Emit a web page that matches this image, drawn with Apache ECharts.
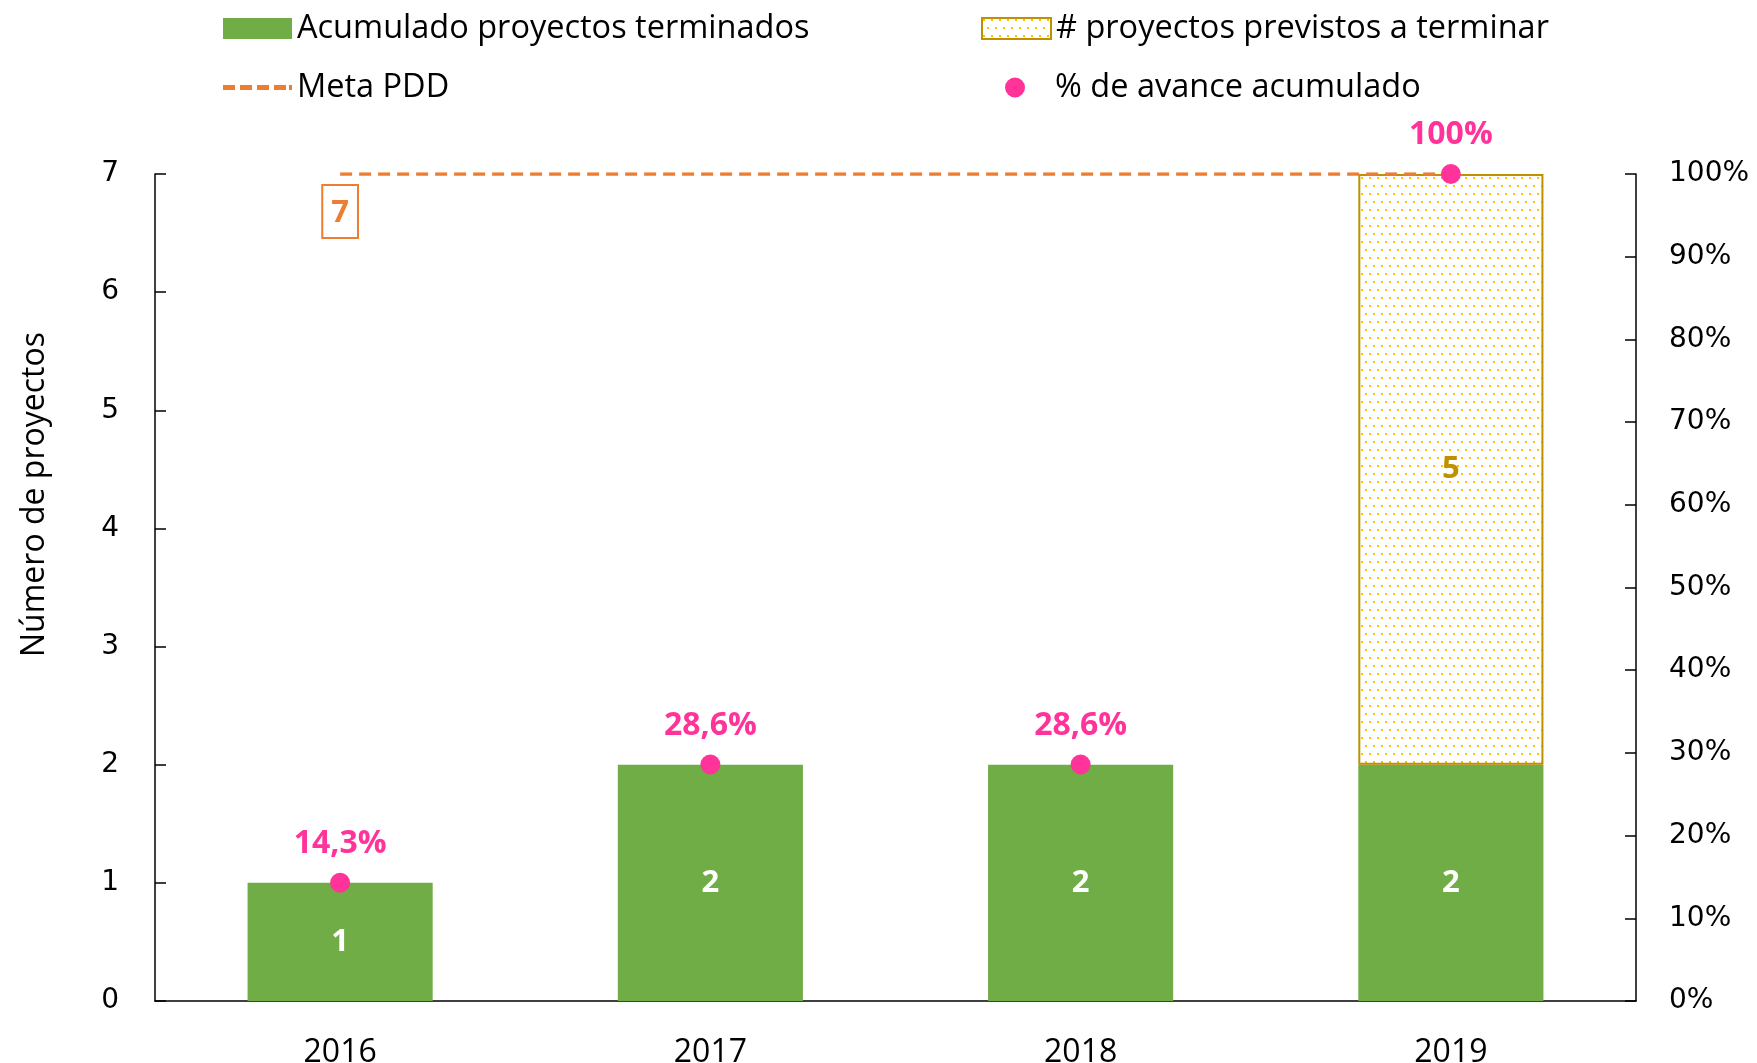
<!DOCTYPE html>
<html>
<head>
<meta charset="UTF-8">
<title>Proyectos terminados</title>
<script type="text/javascript" src="https://cdn.jsdelivr.net/npm/echarts@6/dist/echarts.min.js"></script>
<style>
  html, body { margin: 0; padding: 0; background: #fff; }
  #main { width: 1757px; height: 1063px; }
</style>
</head>
<body>
    <div id="main"></div>
    <script type="text/javascript">
    // datos
    var years = ['2016', '2017', '2018', '2019'];
    var terminados = [1, 2, 2, 2];
    var previstos = ['-', '-', '-', 5];
    var metaPDD = [7, 7, 7, 7];
    var avance = [0.143, 0.286, 0.286, 1.0];

    var txtFont = 'Open Sans';
    var numFont = 'DejaVu Sans';

    // relleno punteado para la barra de previstos
    function dotPattern() {
        var c = document.createElement('canvas');
        c.width = 8; c.height = 16;
        var g = c.getContext('2d');
        g.fillStyle = '#ffffff';
        g.fillRect(0, 0, 8, 16);
        g.fillStyle = '#FFC000';
        g.fillRect(1, 1, 2, 2);
        g.fillRect(5, 9, 2, 2);
        return c;
    }
    var pattern = { image: dotPattern(), repeat: 'repeat' };

    function pct(v) {
        if (v >= 1) return '100%';
        return (v * 100).toFixed(1).replace('.', ',') + '%';
    }

    var legendText = { fontFamily: txtFont, fontSize: 32.5, color: '#000' };
    var dashIcon = 'path://M0,0h12v5h-12zM17,0h12v5h-12zM34,0h12v5h-12zM51,0h12v5h-12zM66,0h3v5h-3z';

    var myChart = echarts.init(document.getElementById('main'));
    var option = {
        animation: false,
        grid: { left: 155, right: 121, top: 174, bottom: 62, containLabel: false, outerBoundsMode: 'none' },
        legend: [
            { data: [{ name: 'Acumulado proyectos terminados', icon: 'rect' }],
              left: 223, top: 12, padding: 0, itemWidth: 69, itemHeight: 21, textStyle: legendText },
            { data: [{ name: '# proyectos previstos a terminar', icon: 'rect' }],
              left: 981, top: 12, padding: 0, itemWidth: 69, itemHeight: 21, textStyle: legendText },
            { data: [{ name: 'Meta PDD', icon: dashIcon, itemStyle: { color: '#ED7D31', opacity: 1 } }],
              left: 223, top: 71, padding: 0, itemWidth: 69, itemHeight: 6, textStyle: legendText,
              itemStyle: { color: '#ED7D31', opacity: 1 } },
            { data: ['% de avance acumulado'],
              left: 980, top: 71, padding: 0, itemWidth: 70, itemHeight: 25, textStyle: legendText,
              lineStyle: { opacity: 0 } }
        ],
        xAxis: {
            type: 'category',
            data: years,
            axisLine: { lineStyle: { color: '#000', width: 1.5 } },
            axisTick: { inside: true, length: 11, lineStyle: { color: '#000', width: 1.5 } },
            axisLabel: { fontFamily: txtFont, fontSize: 32, color: '#000', margin: 36 }
        },
        yAxis: [
            {
                type: 'value', min: 0, max: 7, interval: 1,
                name: 'Número de proyectos',
                nameLocation: 'middle', nameGap: 104, nameRotate: 90,
                nameTextStyle: { fontFamily: txtFont, fontSize: 32, color: '#000', padding: [0, 0, 0, 186] },
                axisLine: { show: true, lineStyle: { color: '#000', width: 1.5 } },
                axisTick: { show: true, inside: true, length: 11, lineStyle: { color: '#000', width: 1.5 } },
                axisLabel: { fontFamily: numFont, fontSize: 28, color: '#000', margin: 36 },
                splitLine: { show: false }
            },
            {
                type: 'value', min: 0, max: 1, interval: 0.1,
                position: 'right',
                axisLine: { show: true, lineStyle: { color: '#000', width: 1.5 } },
                axisTick: { show: true, inside: true, length: 11, lineStyle: { color: '#000', width: 1.5 } },
                axisLabel: {
                    fontFamily: numFont, fontSize: 28, color: '#000', margin: 33,
                    formatter: function (v) { return Math.round(v * 100) + '%'; }
                },
                splitLine: { show: false }
            }
        ],
        series: [
            {
                name: 'Acumulado proyectos terminados',
                type: 'bar', stack: 'p', barWidth: '50%',
                data: terminados,
                itemStyle: { color: '#70AD47' },
                label: {
                    show: true, position: 'inside', color: '#fff',
                    fontFamily: txtFont, fontWeight: 'bold', fontSize: 31
                }
            },
            {
                name: '# proyectos previstos a terminar',
                type: 'bar', stack: 'p', barWidth: '50%',
                data: previstos,
                itemStyle: { color: pattern, borderColor: '#BF9000', borderWidth: 2 },
                label: {
                    show: true, position: 'inside', color: '#BF9000',
                    fontFamily: txtFont, fontWeight: 'bold', fontSize: 31
                }
            },
            {
                name: 'Meta PDD',
                type: 'line',
                data: metaPDD.map(function (v, i) {
                    if (i !== 0) return v;
                    return {
                        value: v,
                        label: {
                            show: true, position: 'bottom', distance: 10,
                            color: '#ED7D31', fontFamily: txtFont, fontWeight: 'bold', fontSize: 31,
                            borderColor: '#ED7D31', borderWidth: 2, padding: [13, 9, 9, 9]
                        }
                    };
                }),
                symbol: 'circle', symbolSize: 2,
                lineStyle: { color: '#ED7D31', width: 3.5, type: [12, 7] },
                itemStyle: { color: 'rgba(0,0,0,0)', borderWidth: 0 },
                z: 3
            },
            {
                name: '% de avance acumulado',
                type: 'line', yAxisIndex: 1,
                data: avance,
                symbol: 'circle', symbolSize: 20,
                lineStyle: { width: 0, opacity: 0 },
                itemStyle: { color: '#FF3399' },
                label: {
                    show: true, position: 'top', distance: 13,
                    color: '#FF3399', fontFamily: txtFont, fontWeight: 'bold', fontSize: 32,
                    formatter: function (p) { return pct(p.value); }
                },
                z: 5
            }
        ]
    };
    myChart.setOption(option);
    </script>
</body>
</html>
